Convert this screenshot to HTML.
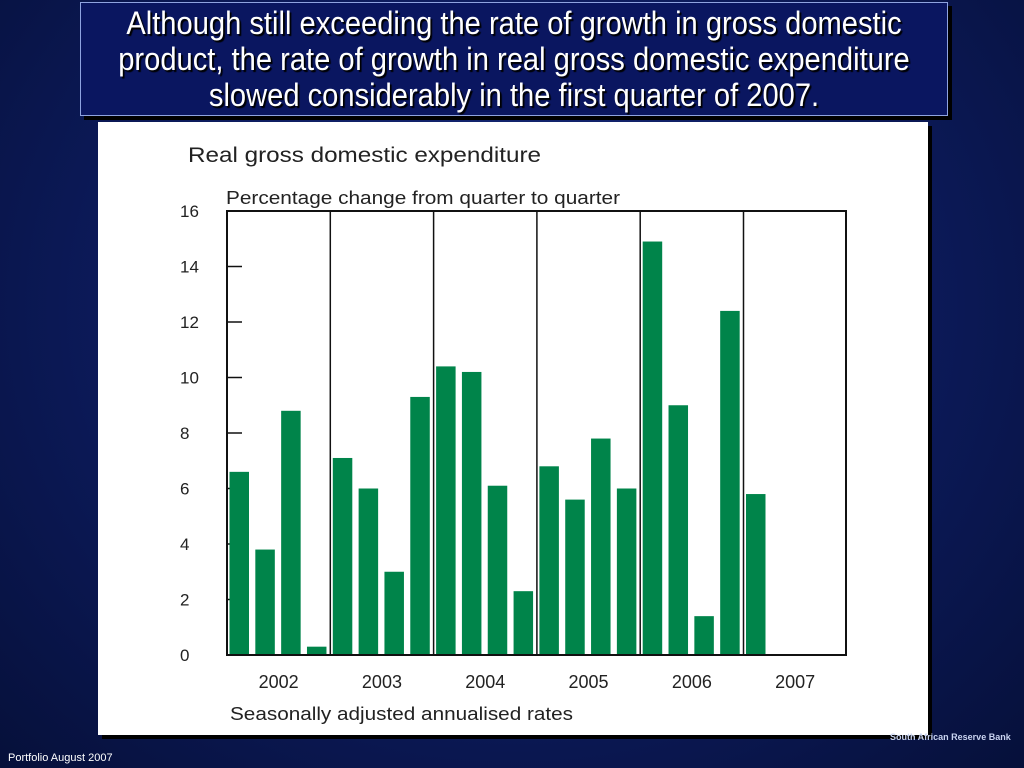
<!DOCTYPE html>
<html><head><meta charset="utf-8"><style>
body{margin:0;width:1024px;height:768px;overflow:hidden;background:radial-gradient(ellipse at 50% 40%,#1a2e80 0%,#0c1a5a 55%,#06103a 100%);font-family:"Liberation Sans",sans-serif;position:relative}
#title{position:absolute;left:80px;top:2px;width:866px;height:112px;background:#0a1660;border:1px solid #8fa3e0;box-shadow:4px 4px 0 #000;color:#fff;font-family:"Liberation Sans",sans-serif;text-shadow:2px 2px 1px #000;display:flex;align-items:center;justify-content:center;overflow:hidden}
#title span{display:block;width:960px;flex:none;font-size:32px;line-height:36px;text-align:center;transform:scaleX(0.91)}
#panel{position:absolute;left:98px;top:122px;width:830px;height:613px;background:#fff;box-shadow:4px 4px 0 #000}
#foot{position:absolute;left:8px;top:752px;color:#fff;font-size:11px}
#bank{position:absolute;left:890px;top:732px;color:#c9d3f0;font-size:9px;font-weight:bold}
</style></head><body>
<div id="title"><span>Although still exceeding the rate of growth in gross domestic product, the rate of growth in real gross domestic expenditure slowed considerably in the first quarter of 2007.</span></div>
<div id="panel"></div>
<svg width="1024" height="768" style="position:absolute;left:0;top:0">
<text x="188" y="162" font-size="21" textLength="353" lengthAdjust="spacingAndGlyphs" fill="#222">Real gross domestic expenditure</text>
<text x="226" y="204" font-size="18" textLength="394" lengthAdjust="spacingAndGlyphs" fill="#222">Percentage change from quarter to quarter</text>
<text x="230" y="720" font-size="18" textLength="343" lengthAdjust="spacingAndGlyphs" fill="#222">Seasonally adjusted annualised rates</text>
<g id="g"></g>
<rect x="227" y="211" width="619" height="444" fill="none" stroke="#111" stroke-width="2"/>
</svg>
<div id="foot">Portfolio August 2007</div>
<div id="bank">South African Reserve Bank</div>
<script>
const years=["2002","2003","2004","2005","2006","2007"];
const values=[6.6,3.8,8.8,0.3,7.1,6.0,3.0,9.3,10.4,10.2,6.1,2.3,6.8,5.6,7.8,6.0,14.9,9.0,1.4,12.4,5.8];
const yTicks=[0,2,4,6,8,10,12,14,16];
const X0=227,YW=103.3,Y0=655,PU=27.75;
const y=v=>Y0-v*PU;
const g=document.getElementById('g');
const NS="http://www.w3.org/2000/svg";
function mk(t,a){const e=document.createElementNS(NS,t);for(const k in a)e.setAttribute(k,a[k]);g.appendChild(e);return e;}
yTicks.forEach(t=>{
 const e=mk('text',{x:180,y:y(t)+6,'font-size':17,fill:'#222'});e.textContent=t;
 
 
 if(t>0&&t<16){const l=mk('line',{x1:227,x2:242,y1:y(t),y2:y(t),stroke:'#111','stroke-width':1.5});
 
 }
});
years.forEach((yr,i)=>{
 const e=mk('text',{x:X0+i*YW+YW/2,y:688,'font-size':18,fill:'#222','text-anchor':'middle'});e.textContent=yr;
 
 
 if(i>0){const l=mk('line',{x1:X0+i*YW,x2:X0+i*YW,y1:211,y2:655,stroke:'#111','stroke-width':1.5});
 
 }
});
values.forEach((v,i)=>{
 const r=mk('rect',{x:X0+Math.floor(i/4)*YW+(i%4)*YW/4+2.5,y:y(v),width:19.5,height:v*PU,fill:'#00844a'});
 
 
});
</script>
</body></html>
